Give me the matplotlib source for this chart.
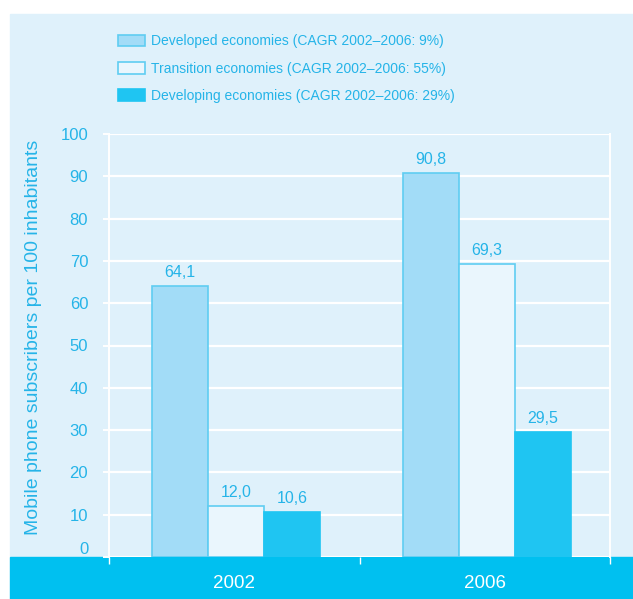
import matplotlib
matplotlib.use("Agg")
import matplotlib.pyplot as plt
from matplotlib.patches import Rectangle
import numpy as np

years = ["2002", "2006"]
series = [
    "Developed economies (CAGR 2002\u20132006: 9%)",
    "Transition economies (CAGR 2002\u20132006: 55%)",
    "Developing economies (CAGR 2002\u20132006: 29%)",
]
developed = [64.1, 90.8]
transition = [12.0, 69.3]
developing = [10.6, 29.5]
yticks = [0, 10, 20, 30, 40, 50, 60, 70, 80, 90, 100]
ylabel = "Mobile phone subscribers per 100 inhabitants"

panel = "#dff1fb"
strip = "#00c0f0"
txt = "#25b4e8"
fills = ["#a2dcf7", "#eaf6fd", "#1fc5f2"]
edges = ["#5fcdf2", "#5fcdf2", "#1fc5f2"]

plt.rcParams["font.family"] = ["Liberation Sans Narrow", "Liberation Sans", "DejaVu Sans"]

W, H = 633, 599
fig = plt.figure(figsize=(W / 100, H / 100), dpi=100, facecolor="white")

def px(x0, y0, w, h, color):
    fig.patches.append(Rectangle((x0 / W, 1 - (y0 + h) / H), w / W, h / H,
                                 transform=fig.transFigure, color=color, zorder=-5))

# light panel and dark bottom band
px(10, 14, W - 10, 557 - 14, panel)
px(10, 557, W - 10, H - 557, strip)

ax = fig.add_axes([109 / W, 1 - 557 / H, (610 - 109) / W, (557 - 134) / H])
ax.set_facecolor("none")

x = np.arange(len(years))
w = 0.224
for i, (vals, name) in enumerate(zip([developed, transition, developing], series)):
    pos = x + (i - 1) * w + 0.008
    ax.bar(pos, vals, w, color=fills[i], edgecolor=edges[i], linewidth=1.2,
           label=name, zorder=3)
    for p, v in zip(pos, vals):
        ax.text(p, v + 1.5, f"{v:.1f}".replace(".", ","), ha="center", va="bottom",
                color=txt, fontsize=11.5, zorder=4)

ax.set_xlim(-0.5, 1.5)
ax.set_ylim(0, 100)
ax.set_yticks(yticks)
ax.yaxis.grid(True, color="white", linewidth=1.6, zorder=1)
ax.set_axisbelow(True)
ax.tick_params(axis="y", colors="white", length=4, width=1.4, labelcolor=txt,
               labelsize=12, pad=11)
ax.get_yticklabels()[0].set_va("bottom")
for s in ["top", "bottom"]:
    ax.spines[s].set_visible(False)
for s in ["left", "right"]:
    ax.spines[s].set_color("white")
    ax.spines[s].set_linewidth(1.4)

ax.set_xticks(x)
ax.set_xticklabels(years)
ax.tick_params(axis="x", length=0, labelcolor="white", labelsize=13.5, pad=13)
ax.set_xticks([-0.5, 0.5, 1.5], minor=True)
ax.tick_params(axis="x", which="minor", length=5, width=1, color="white")

ax.set_ylabel(ylabel, color=txt, fontsize=14)
ax.yaxis.set_label_coords(-0.134, 0.52)

fig.legend(loc="upper left", bbox_to_anchor=(105 / W, 1 - 22 / H), frameon=False,
           fontsize=10, labelcolor=txt, handlelength=2.0, handleheight=0.9,
           handletextpad=0.4, labelspacing=0.95)

fig.savefig("out.png", dpi=100, facecolor="white")
